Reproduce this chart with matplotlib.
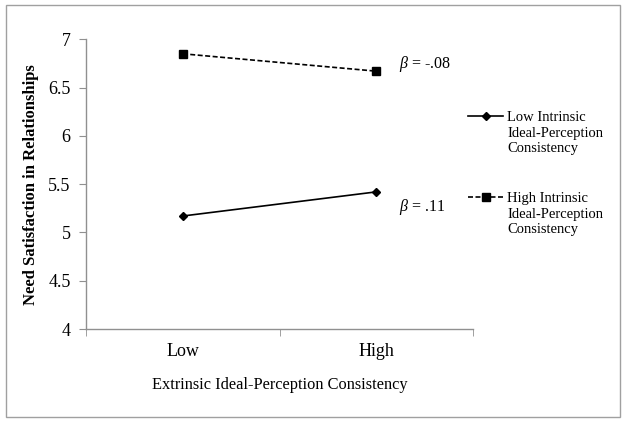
import matplotlib
matplotlib.use("Agg")
import matplotlib.pyplot as plt
from matplotlib.patches import Rectangle
from matplotlib.text import Annotation

# data
categories = ["Low", "High"]
low_intrinsic = [5.17, 5.42]
high_intrinsic = [6.85, 6.67]
series_first = ["Low Intrinsic", "High Intrinsic"]
series_rest = ["Ideal-Perception\nConsistency", "Ideal-Perception\nConsistency"]
beta_labels = [r"$\beta$ = -.08", r"$\beta$ = .11"]
y_ticks = [4, 4.5, 5, 5.5, 6, 6.5, 7]

plt.rcParams["font.family"] = "Liberation Serif"
plt.rcParams["mathtext.fontset"] = "custom"
plt.rcParams["mathtext.it"] = "Liberation Serif:italic"
plt.rcParams["mathtext.rm"] = "Liberation Serif"

W, H = 625, 425
fig = plt.figure(figsize=(6.25, 4.25), dpi=100)
fig.patch.set_facecolor("white")

# gray frame around the whole chart
fig.patches.append(Rectangle((6 / W, 1 - 417 / H), 614 / W, 412 / H,
                             transform=fig.transFigure, fill=False,
                             edgecolor="#a0a0a0", linewidth=1.0))

ax = fig.add_axes([86 / W, 1 - 329 / H, 387 / W, (329 - 39.3) / H])

x = list(range(len(categories)))
ax.plot(x, low_intrinsic, color="black", linewidth=1.2, marker="D",
        markersize=4.5, label=series_first[0])
ax.plot(x, high_intrinsic, color="black", linewidth=1.2, linestyle=(0, (3, 1.5)),
        marker="s", markersize=6, label=series_first[1])

ax.text(1.12, 6.74, beta_labels[0], fontsize=11.5, va="center", ha="left")
ax.text(1.12, 5.26, beta_labels[1], fontsize=11.5, va="center", ha="left")

ax.set_xlim(-0.5, 1.5)
ax.set_ylim(4, 7)
ax.set_yticks(y_ticks)
ax.set_yticklabels([f"{t:g}" for t in y_ticks])
ax.set_xticks(x)
ax.set_xticklabels(categories)
ax.set_xticks([-0.5, 0.5, 1.5], minor=True)

for side in ["top", "right"]:
    ax.spines[side].set_visible(False)
for side in ["left", "bottom"]:
    ax.spines[side].set_color("#909090")
    ax.spines[side].set_linewidth(1.0)

ax.tick_params(axis="y", direction="out", length=5, color="#909090",
               labelsize=13, pad=6)
ax.tick_params(axis="x", which="major", length=0, labelsize=13, pad=10)
ax.tick_params(axis="x", which="minor", direction="out", length=5,
               color="#909090")

ax.set_ylabel("Need Satisfaction in Relationships", fontsize=12,
              fontweight="bold", labelpad=7)
ax.set_xlabel("Extrinsic Ideal-Perception Consistency", fontsize=11.8,
              labelpad=12)

# legend: handle sits on the first line, remaining lines hang below it
leg = ax.legend(loc="upper left", bbox_to_anchor=(468 / W, 1 - 111 / H),
                bbox_transform=fig.transFigure, frameon=False, fontsize=10.5,
                handlelength=2.4, handletextpad=0.3, labelspacing=4.65,
                borderaxespad=0, borderpad=0)
for txt, rest in zip(leg.get_texts(), series_rest):
    fig.add_artist(Annotation(rest, xy=(0, 0), xycoords=txt, xytext=(0, -2.2),
                              textcoords="offset points", va="top", ha="left",
                              fontsize=10.5, linespacing=1.2))

fig.savefig("out.png", dpi=100, facecolor="white")
